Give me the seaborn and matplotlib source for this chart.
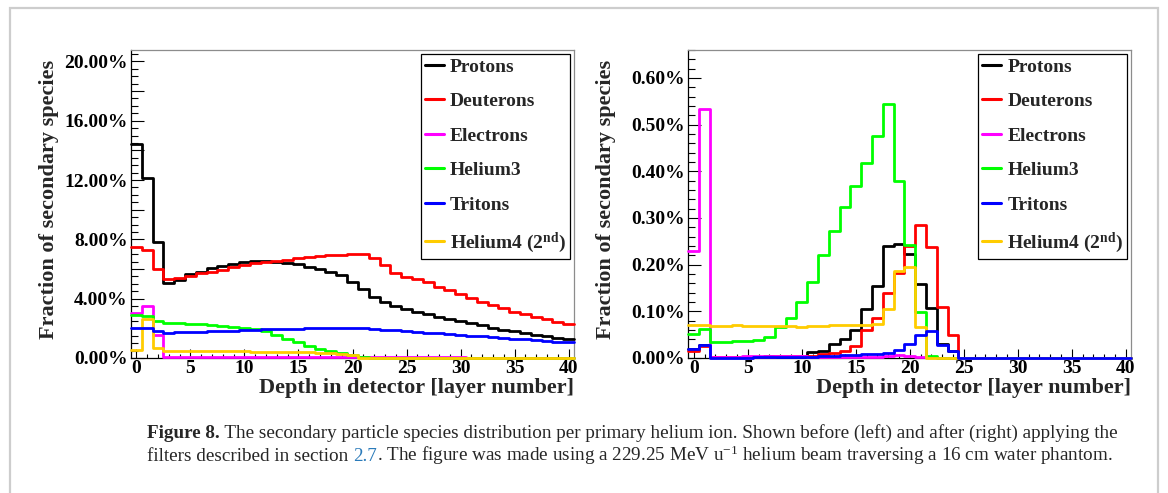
import matplotlib
matplotlib.use("Agg")
import matplotlib.pyplot as plt
import pandas as pd
import seaborn as sns
from matplotlib.lines import Line2D
from matplotlib.patches import Rectangle
from matplotlib.ticker import MultipleLocator, FuncFormatter

# layer number (bin centres) of the detector
layers = list(range(41))

species = ["Protons", "Deuterons", "Electrons", "Helium3", "Tritons", "Helium4 (2$^{\\mathbf{nd}}$)"]
colors = ["#000000", "#ff0000", "#ff00ff", "#00ff00", "#0000ff", "#ffcc00"]

# fraction of secondary species [%] before filtering (left panel)
before_protons = [14.43, 12.12, 7.84, 5.08, 5.25, 5.64, 5.82, 6.05, 6.22, 6.35,
                  6.45, 6.52, 6.54, 6.47, 6.43, 6.32, 6.16, 6.00, 5.82, 5.60,
                  5.12, 4.62, 4.10, 3.75, 3.52, 3.33, 3.12, 2.97, 2.79, 2.66,
                  2.52, 2.36, 2.20, 2.05, 1.91, 1.79, 1.67, 1.56, 1.45, 1.35, 1.26]
before_deuterons = [7.51, 7.28, 5.98, 5.30, 5.42, 5.53, 5.71, 5.82, 5.93, 6.11,
                    6.27, 6.38, 6.49, 6.56, 6.61, 6.74, 6.83, 6.88, 6.92, 6.97,
                    7.04, 7.04, 6.77, 6.30, 5.75, 5.48, 5.30, 5.10, 4.81, 4.59,
                    4.32, 4.02, 3.80, 3.57, 3.35, 3.12, 2.94, 2.78, 2.61, 2.42, 2.29]
before_electrons = [3.01, 3.50, 1.55, 0.09, 0.09, 0.08, 0.08, 0.08, 0.07, 0.07,
                    0.07, 0.07, 0.06, 0.06, 0.06, 0.06, 0.06, 0.05, 0.05, 0.05,
                    0.05, 0.05, 0.05, 0.04, 0.04, 0.04, 0.04, 0.04, 0.04, 0.04,
                    0.04, 0.03, 0.03, 0.03, 0.03, 0.03, 0.03, 0.03, 0.03, 0.03, 0.03]
before_helium3 = [2.90, 2.85, 2.52, 2.36, 2.34, 2.32, 2.29, 2.23, 2.16, 2.11,
                  2.04, 1.96, 1.80, 1.58, 1.30, 1.06, 0.81, 0.63, 0.47, 0.36,
                  0.22, 0.05, 0, 0, 0, 0, 0, 0, 0, 0,
                  0, 0, 0, 0, 0, 0, 0, 0, 0, 0, 0]
before_tritons = [2.00, 2.00, 1.82, 1.71, 1.73, 1.75, 1.77, 1.79, 1.82, 1.85,
                  1.89, 1.91, 1.93, 1.95, 1.97, 1.98, 1.99, 2.00, 2.00, 2.01,
                  2.01, 2.00, 1.98, 1.91, 1.86, 1.81, 1.76, 1.71, 1.66, 1.61,
                  1.56, 1.51, 1.46, 1.41, 1.36, 1.31, 1.26, 1.21, 1.16, 1.11, 1.07]
before_helium4 = [0.54, 2.63, 0.70, 0.47, 0.47, 0.46, 0.46, 0.45, 0.45, 0.44,
                  0.44, 0.43, 0.43, 0.42, 0.41, 0.40, 0.38, 0.36, 0.33, 0.30,
                  0.22, 0, 0, 0, 0, 0, 0, 0, 0, 0,
                  0, 0, 0, 0, 0, 0, 0, 0, 0, 0, 0]

# fraction of secondary species [%] after filtering (right panel)
after_protons = [0.020, 0.028, 0.002, 0.002, 0.002, 0.002, 0.003, 0.004, 0.004, 0.004,
                 0.005, 0.012, 0.014, 0.029, 0.041, 0.061, 0.104, 0.154, 0.241, 0.245,
                 0.222, 0.159, 0.108, 0.030, 0.016, 0, 0, 0, 0, 0,
                 0, 0, 0, 0, 0, 0, 0, 0, 0, 0, 0]
after_deuterons = [0.015, 0.025, 0.002, 0.002, 0.002, 0.003, 0.003, 0.003, 0.004, 0.004,
                   0.004, 0.004, 0.008, 0.010, 0.015, 0.026, 0.059, 0.086, 0.139, 0.182,
                   0.239, 0.286, 0.238, 0.109, 0.049, 0, 0, 0, 0, 0,
                   0, 0, 0, 0, 0, 0, 0, 0, 0, 0, 0]
after_electrons = [0.229, 0.534, 0.003, 0.003, 0.003, 0.004, 0.004, 0.005, 0.004, 0.005,
                   0.004, 0.003, 0.003, 0.003, 0.003, 0.003, 0.003, 0.003, 0.005, 0.006,
                   0.005, 0.003, 0.002, 0.001, 0, 0, 0, 0, 0, 0,
                   0, 0, 0, 0, 0, 0, 0, 0, 0, 0, 0]
after_helium3 = [0.051, 0.062, 0.034, 0.035, 0.036, 0.037, 0.039, 0.044, 0.066, 0.086,
                 0.121, 0.163, 0.220, 0.273, 0.323, 0.368, 0.417, 0.475, 0.545, 0.380,
                 0.243, 0.098, 0.004, 0, 0, 0, 0, 0, 0, 0,
                 0, 0, 0, 0, 0, 0, 0, 0, 0, 0, 0]
after_tritons = [0.019, 0.028, 0.001, 0.001, 0.001, 0.001, 0.002, 0.002, 0.002, 0.002,
                 0.003, 0.003, 0.004, 0.004, 0.006, 0.007, 0.008, 0.009, 0.011, 0.018,
                 0.029, 0.050, 0.058, 0.028, 0.015, 0, 0, 0, 0, 0,
                 0, 0, 0, 0, 0, 0, 0, 0, 0, 0, 0]
after_helium4 = [0.070, 0.071, 0.069, 0.069, 0.070, 0.069, 0.069, 0.068, 0.068, 0.068,
                 0.067, 0.068, 0.069, 0.070, 0.071, 0.071, 0.071, 0.073, 0.106, 0.186,
                 0.195, 0.066, 0, 0, 0, 0, 0, 0, 0, 0,
                 0, 0, 0, 0, 0, 0, 0, 0, 0, 0, 0]

before = [before_protons, before_deuterons, before_electrons,
          before_helium3, before_tritons, before_helium4]
after = [after_protons, after_deuterons, after_electrons,
         after_helium3, after_tritons, after_helium4]

sns.set_theme(style="white")
plt.rcParams["font.family"] = ["Liberation Serif", "DejaVu Serif"]
plt.rcParams["font.weight"] = "bold"
plt.rcParams["mathtext.fontset"] = "custom"
plt.rcParams["mathtext.rm"] = "Liberation Serif:weight=normal"
plt.rcParams["mathtext.it"] = "Liberation Serif:italic:weight=normal"
plt.rcParams["mathtext.bf"] = "Liberation Serif:weight=bold"

W, H = 1168, 493
fig = plt.figure(figsize=(W / 100, H / 100), dpi=100)
fig.patch.set_facecolor("white")

ax_l = fig.add_axes([131 / W, 1 - 358 / H, 443 / W, 308 / H])
ax_r = fig.add_axes([688.3 / W, 1 - 358 / H, 443 / W, 308 / H])


def draw_panel(ax, series, ymax, major, minor, label_step):
    # draw order: helium4 before tritons so blue sits on top at zero
    order = [0, 1, 2, 3, 5, 4]
    for i in order:
        df = pd.DataFrame({"layer": layers, "fraction": series[i]})
        sns.histplot(data=df, x="layer", weights="fraction", discrete=True,
                     element="step", fill=False, color=colors[i],
                     linewidth=2.0, zorder=3, clip_on=False, ax=ax)

    ax.set_xlim(-0.5, 40.5)
    ax.set_ylim(0, ymax)

    ax.xaxis.set_major_locator(MultipleLocator(5))
    ax.xaxis.set_minor_locator(MultipleLocator(1))
    ax.yaxis.set_major_locator(MultipleLocator(major))
    ax.yaxis.set_minor_locator(MultipleLocator(minor))

    def fmt(v, pos):
        k = v / label_step
        if abs(k - round(k)) < 1e-6:
            return f"{v:.2f}%"
        return ""
    ax.yaxis.set_major_formatter(FuncFormatter(fmt))

    ax.tick_params(axis="both", which="both", direction="in",
                   left=True, bottom=True, right=False, top=False,
                   width=0.8, colors="black", labelsize=14)
    ax.tick_params(axis="y", which="major", length=9.5, pad=2.5)
    ax.tick_params(axis="y", which="minor", length=4.7)
    ax.tick_params(axis="x", which="major", length=6.5, pad=1.5)
    ax.tick_params(axis="x", which="minor", length=3.2)
    for lab in ax.get_xticklabels() + ax.get_yticklabels():
        lab.set_fontweight("bold")

    for side in ["left", "bottom"]:
        ax.spines[side].set_color("black")
        ax.spines[side].set_linewidth(0.9)
    for side in ["top", "right"]:
        ax.spines[side].set_color("#8c8c8c")
        ax.spines[side].set_linewidth(0.9)

    ax.set_xlabel("Depth in detector [layer number]", fontsize=16,
                  fontweight="bold", loc="right")
    ax.set_ylabel("Fraction of secondary species", fontsize=16,
                  fontweight="bold", loc="top")
    ax.xaxis.set_label_coords(1.0, -0.064)
    ax.yaxis.set_label_coords(-0.163, 0.968)

    handles = [Line2D([0], [0], color=c, lw=2.2) for c in colors]
    leg = ax.legend(handles, species, loc="upper right",
                    bbox_to_anchor=(0.991, 0.987), borderaxespad=0,
                    frameon=True, fancybox=False, framealpha=1,
                    edgecolor="black", prop={"weight": "bold", "size": 14},
                    handlelength=1.0, handletextpad=0.3,
                    labelspacing=0.87, borderpad=0.2)
    leg.get_frame().set_linewidth(0.9)
    leg.set_zorder(5)


draw_panel(ax_l, before, 20.77, 2.0, 0.5, 4.0)
draw_panel(ax_r, after, 0.66, 0.1, 0.02, 0.1)

# outer grey border of the figure panel
fig.add_artist(Rectangle((10 / W, -0.05), 1148 / W, 1 - 8 / H + 0.05,
                         transform=fig.transFigure, fill=False,
                         edgecolor="#cdcdcd", linewidth=1.6, clip_on=False))

# caption, drawn piece by piece so bold / coloured parts line up
renderer = fig.canvas.get_renderer()


def caption_line(pieces, x_px, y_px):
    x = x_px
    for text, kw in pieces:
        t = fig.text(x / W, 1 - y_px / H, text, ha="left", va="baseline",
                     fontsize=13.8, family=["Liberation Serif", "DejaVu Serif"], **kw)
        bb = t.get_window_extent(renderer=renderer)
        x += bb.width


caption_line([("Figure 8.", {"fontweight": "bold"}),
              (" The secondary particle species distribution per primary helium ion. "
               "Shown before (left) and after (right) applying the", {"fontweight": "normal"})],
             147, 438)
caption_line([("filters described in section ", {"fontweight": "normal"}),
              ("2.7", {"fontweight": "normal", "color": "#2b7bba"}),
              (". The figure was made using a 229.25 MeV u$^{-1}$ helium beam traversing "
               "a 16 cm water phantom.", {"fontweight": "normal"})],
             147, 461)

fig.savefig("out.png", dpi=100, facecolor="white")
